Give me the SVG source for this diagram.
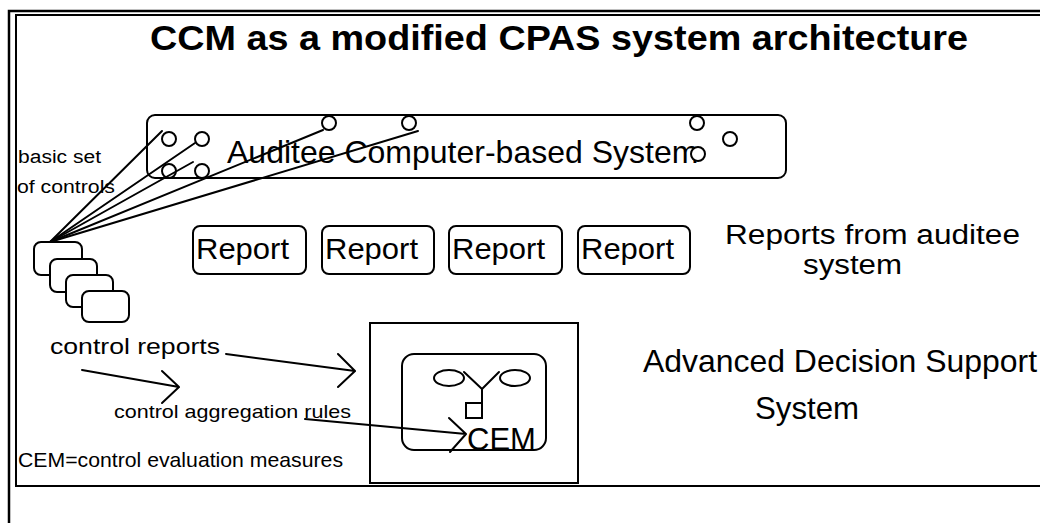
<svg xmlns="http://www.w3.org/2000/svg" width="1040" height="523" viewBox="0 0 1040 523">
  <style>
    .t { font-family: "Liberation Sans", Arial, Helvetica, sans-serif; fill: #000; }
    .b { font-weight: bold; }
    .box { fill: #fff; stroke: #000; stroke-width: 2; }
    .frame { fill: none; stroke: #000; }
    .ln { fill: none; stroke: #000; stroke-width: 2; stroke-linecap: round; stroke-linejoin: round; }
    .port { fill: #fff; stroke: #000; stroke-width: 2; }
  </style>
  <rect width="1040" height="523" fill="#fff"/>

  <!-- double page frame -->
  <g id="frame">
    <rect class="frame" x="9" y="11" width="1100" height="600" stroke-width="2.5"/>
    <rect class="frame" x="16" y="15" width="1100" height="471" stroke-width="2"/>
  </g>

  <text id="title" class="t b" x="150" y="50" font-size="35" textLength="818" lengthAdjust="spacingAndGlyphs">CCM as a modified CPAS system architecture</text>

  <!-- auditee system with its control ports -->
  <g id="auditee">
    <rect class="box" x="147" y="115" width="639" height="63" rx="8"/>
    <text class="t" x="227" y="163" font-size="32">Auditee Computer-based System</text>
    <circle class="port" cx="169" cy="139" r="7"/>
    <circle class="port" cx="202" cy="139" r="7"/>
    <circle class="port" cx="169" cy="171" r="7"/>
    <circle class="port" cx="202" cy="171" r="7"/>
    <circle class="port" cx="329" cy="123" r="7"/>
    <circle class="port" cx="409" cy="123" r="7"/>
    <circle class="port" cx="697" cy="123" r="7"/>
    <circle class="port" cx="730" cy="139" r="7"/>
    <circle class="port" cx="698" cy="154" r="7"/>
  </g>

  <g id="controls-label">
    <text class="t" x="18" y="163" font-size="18" textLength="83" lengthAdjust="spacingAndGlyphs">basic set</text>
    <text class="t" x="17" y="193" font-size="18" textLength="98" lengthAdjust="spacingAndGlyphs">of controls</text>
  </g>

  <!-- stacked control cards -->
  <g id="control-cards">
    <rect class="box" x="34" y="242" width="48" height="33" rx="7"/>
    <rect class="box" x="50" y="259" width="47" height="33" rx="7"/>
    <rect class="box" x="66" y="275" width="47" height="32" rx="7"/>
    <rect class="box" x="82" y="291" width="47" height="31" rx="7"/>
  </g>

  <g id="reports">
    <g id="report1">
      <rect class="box" x="193" y="226" width="113" height="48" rx="7"/>
      <text class="t" x="196" y="259" font-size="30" textLength="93" lengthAdjust="spacingAndGlyphs">Report</text>
    </g>
    <g id="report2">
      <rect class="box" x="322" y="226" width="112" height="48" rx="7"/>
      <text class="t" x="325" y="259" font-size="30" textLength="93" lengthAdjust="spacingAndGlyphs">Report</text>
    </g>
    <g id="report3">
      <rect class="box" x="449" y="226" width="113" height="48" rx="7"/>
      <text class="t" x="452" y="259" font-size="30" textLength="93" lengthAdjust="spacingAndGlyphs">Report</text>
    </g>
    <g id="report4">
      <rect class="box" x="578" y="226" width="112" height="48" rx="7"/>
      <text class="t" x="581" y="259" font-size="30" textLength="93" lengthAdjust="spacingAndGlyphs">Report</text>
    </g>
  </g>

  <g id="reports-label">
    <text class="t" x="725" y="244" font-size="27" textLength="295" lengthAdjust="spacingAndGlyphs">Reports from auditee</text>
    <text class="t" x="803" y="274" font-size="27" textLength="99" lengthAdjust="spacingAndGlyphs">system</text>
  </g>

  <!-- decision support system -->
  <g id="adss">
    <rect class="box" x="370" y="323" width="208" height="160"/>
    <rect class="box" x="402" y="354" width="144" height="96" rx="12"/>
    <ellipse class="port" cx="449" cy="378" rx="15" ry="8"/>
    <ellipse class="port" cx="515" cy="378" rx="15" ry="8"/>
    <path class="ln" d="M464 372 L482 389 L499 372 M482 389 L482 403"/>
    <rect class="box" x="466" y="403" width="16" height="15" stroke-width="1.8"/>
    <text class="t" x="467" y="450" font-size="31">CEM</text>
  </g>

  <g id="adss-label">
    <text class="t" x="643" y="372" font-size="32" textLength="394" lengthAdjust="spacingAndGlyphs">Advanced Decision Support</text>
    <text class="t" x="755" y="419" font-size="32" textLength="104" lengthAdjust="spacingAndGlyphs">System</text>
  </g>

  <g id="notes">
    <text class="t" x="50" y="354" font-size="22" textLength="170" lengthAdjust="spacingAndGlyphs">control reports</text>
    <text class="t" x="114" y="418" font-size="19" textLength="237" lengthAdjust="spacingAndGlyphs">control aggregation rules</text>
    <text class="t" x="18" y="467" font-size="21" textLength="325" lengthAdjust="spacingAndGlyphs">CEM=control evaluation measures</text>
  </g>

  <!-- connectors -->
  <g id="connectors">
    <path class="ln" d="M50 242 L162 131"/>
    <path class="ln" d="M50 242 L195 143"/>
    <path class="ln" d="M50 242 L193 162"/>
    <path class="ln" d="M50 242 L323 130"/>
    <path class="ln" d="M50 242 L418 131"/>
    <path class="ln" d="M226 354 L355 371 M338 354 L355 371 L338 387"/>
    <path class="ln" d="M82 370 L179 387 M162 371 L179 387 L162 403"/>
    <path class="ln" d="M305 419 L466 434 M449 418 L466 434 L450 452"/>
  </g>
</svg>
